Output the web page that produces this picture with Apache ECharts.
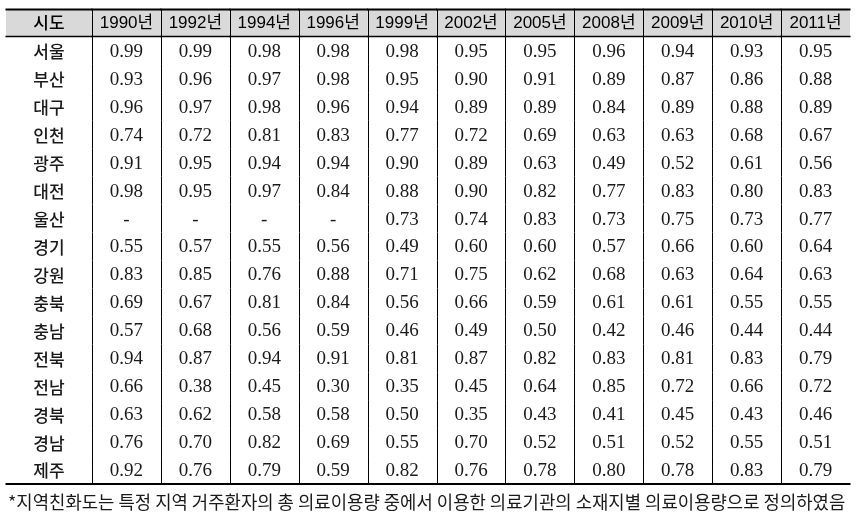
<!DOCTYPE html>
<html><head><meta charset="utf-8">
<script src="https://cdn.jsdelivr.net/npm/echarts@6/dist/echarts.min.js"></script>
<style>html,body{margin:0;padding:0;background:#fff}#c{width:862px;height:520px}</style>
</head><body><div id="c"></div>
<script>
const headerLabel = '시도';
const years = ['1990년','1992년','1994년','1996년','1999년','2002년','2005년','2008년','2009년','2010년','2011년'];
const regions = ['서울','부산','대구','인천','광주','대전','울산','경기','강원','충북','충남','전북','전남','경북','경남','제주'];
const seoul   = [0.99,0.99,0.98,0.98,0.98,0.95,0.95,0.96,0.94,0.93,0.95];
const busan   = [0.93,0.96,0.97,0.98,0.95,0.90,0.91,0.89,0.87,0.86,0.88];
const daegu   = [0.96,0.97,0.98,0.96,0.94,0.89,0.89,0.84,0.89,0.88,0.89];
const incheon = [0.74,0.72,0.81,0.83,0.77,0.72,0.69,0.63,0.63,0.68,0.67];
const gwangju = [0.91,0.95,0.94,0.94,0.90,0.89,0.63,0.49,0.52,0.61,0.56];
const daejeon = [0.98,0.95,0.97,0.84,0.88,0.90,0.82,0.77,0.83,0.80,0.83];
const ulsan   = [null,null,null,null,0.73,0.74,0.83,0.73,0.75,0.73,0.77];
const gyeonggi= [0.55,0.57,0.55,0.56,0.49,0.60,0.60,0.57,0.66,0.60,0.64];
const gangwon = [0.83,0.85,0.76,0.88,0.71,0.75,0.62,0.68,0.63,0.64,0.63];
const chungbuk= [0.69,0.67,0.81,0.84,0.56,0.66,0.59,0.61,0.61,0.55,0.55];
const chungnam= [0.57,0.68,0.56,0.59,0.46,0.49,0.50,0.42,0.46,0.44,0.44];
const jeonbuk = [0.94,0.87,0.94,0.91,0.81,0.87,0.82,0.83,0.81,0.83,0.79];
const jeonnam = [0.66,0.38,0.45,0.30,0.35,0.45,0.64,0.85,0.72,0.66,0.72];
const gyeongbuk=[0.63,0.62,0.58,0.58,0.50,0.35,0.43,0.41,0.45,0.43,0.46];
const gyeongnam=[0.76,0.70,0.82,0.69,0.55,0.70,0.52,0.51,0.52,0.55,0.51];
const jeju    = [0.92,0.76,0.79,0.59,0.82,0.76,0.78,0.80,0.78,0.83,0.79];
const rows = [seoul,busan,daegu,incheon,gwangju,daejeon,ulsan,gyeonggi,gangwon,chungbuk,chungnam,jeonbuk,jeonnam,gyeongbuk,gyeongnam,jeju];
const note = '*지역친화도는 특정 지역 거주환자의 총 의료이용량 중에서 이용한 의료기관의 소재지별 의료이용량으로 정의하였음';

const rowCats = [headerLabel].concat(regions);
const SANS = '"Liberation Sans", "Noto Sans CJK KR", sans-serif';
const KR = '"Noto Sans CJK KR", sans-serif';
const SERIF = '"Liberation Serif", serif';
const LAST = rowCats.length - 1;

function makeRender(isData) {
  return function (params, api) {
    const xi = api.value(0), yi = api.value(1);
    const c = api.coord([xi, yi]);
    const s = api.size([1, 1]);
    const x0 = c[0] - s[0] / 2, y0 = c[1] - s[1] / 2, y1 = c[1] + s[1] / 2;
    const ch = [];
    const head = yi === 0;
    if (head) ch.push({type:'rect', shape:{x:x0, y:y0, width:s[0], height:s[1]}, style:{fill:'#d9d9d9'}, z2:0});
    let text, font, size, weight = 'normal';
    if (head && isData) { text = years[xi]; font = SANS; size = 17; }
    else if (head) { text = headerLabel; font = KR; size = 17; weight = 500; }
    else if (isData) { const v = rows[yi-1][xi]; text = v == null ? '-' : v.toFixed(2); font = SERIF; size = 19; }
    else { text = regions[yi-1]; font = KR; size = 17; weight = 500; }
    ch.push({type:'text', x:c[0], y:c[1] + (head ? 0 : 1), style:{text:text, fill: head ? '#000' : '#1a1a1a', fontFamily:font, fontSize:size, fontWeight:weight, align:'center', verticalAlign:'middle'}, z2:5});
    if (isData) {
      const xr = Math.round(x0) + 0.5;
      ch.push({type:'line', shape:{x1:xr, y1:y0, x2:xr, y2:y1}, style:{stroke:'#000', lineWidth:1}, z2:10});
    }
    const xs = x0 - 0.5, xe = x0 + s[0] + 0.5;
    if (head) {
      ch.push({type:'line', shape:{x1:xs, y1:Math.round(y0)+0.5, x2:xe, y2:Math.round(y0)+0.5}, style:{stroke:'#000', lineWidth:2}, z2:10});
      ch.push({type:'line', shape:{x1:xs, y1:Math.round(y1)-0.5, x2:xe, y2:Math.round(y1)-0.5}, style:{stroke:'#000', lineWidth:1.5}, z2:10});
    }
    if (yi === LAST) {
      ch.push({type:'line', shape:{x1:xs, y1:Math.round(y1), x2:xe, y2:Math.round(y1)}, style:{stroke:'#000', lineWidth:2}, z2:10});
    }
    return {type:'group', children:ch};
  };
}

const nameData = rowCats.map((r, yi) => [0, yi]);
const cellData = [];
rowCats.forEach((r, yi) => years.forEach((y, xi) => cellData.push([xi, yi])));

const chart = echarts.init(document.getElementById('c'), null, {renderer:'canvas'});
chart.setOption({
  animation: false,
  backgroundColor: '#fff',
  title: {text: note, left: 3, top: 488, textStyle: {fontFamily: KR, fontSize: 17.8, fontWeight: 'normal', color: '#1a1a1a'}},
  grid: [
    {left: 6, width: 86, top: 9, height: 475},
    {left: 92, width: 758, top: 9, height: 475}
  ],
  xAxis: [
    {type:'category', gridIndex:0, data:[headerLabel], show:false},
    {type:'category', gridIndex:1, data:years, show:false}
  ],
  yAxis: [
    {type:'category', gridIndex:0, data:rowCats, inverse:true, show:false},
    {type:'category', gridIndex:1, data:rowCats, inverse:true, show:false}
  ],
  series: [
    {type:'custom', xAxisIndex:0, yAxisIndex:0, data:nameData, encode:{x:0, y:1}, renderItem:makeRender(false), clip:false, silent:true},
    {type:'custom', xAxisIndex:1, yAxisIndex:1, data:cellData, encode:{x:0, y:1}, renderItem:makeRender(true), clip:false, silent:true}
  ]
});
</script></body></html>
